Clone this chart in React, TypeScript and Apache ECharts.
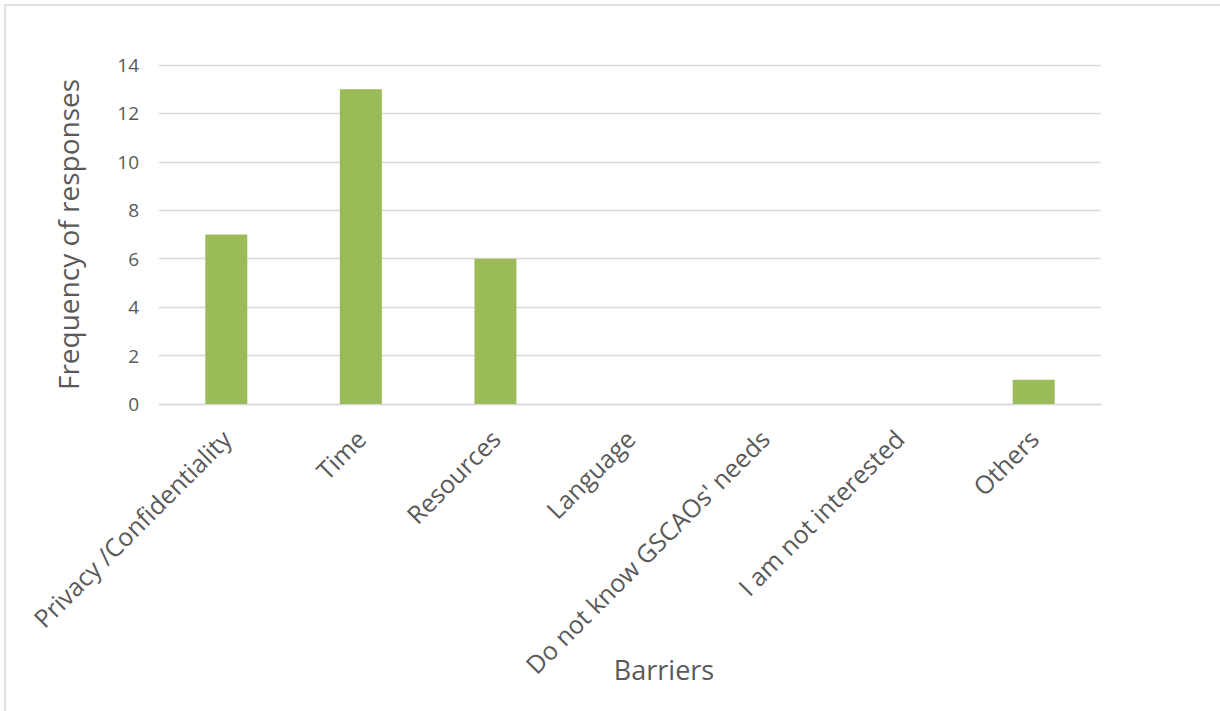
import React, { useEffect, useRef } from "react";
import * as echarts from "echarts";

const categories = [
  "Privacy /Confidentiality",
  "Time",
  "Resources",
  "Language",
  "Do not know GSCAOs' needs",
  "I am not interested",
  "Others",
];
const frequencies = [7, 13, 6, 0, 0, 0, 1];
const yTitle = "Frequency of responses";
const xTitle = "Barriers";

export default function App() {
  const ref = useRef<HTMLDivElement>(null);
  useEffect(() => {
    if (!ref.current) return;
    const chart = echarts.init(ref.current, undefined, { renderer: "svg" });
    const font = "'Open Sans', sans-serif";
    chart.setOption({
      animation: false,
      backgroundColor: "#ffffff",
      grid: { left: 159, right: 119, top: 65, bottom: 307, containLabel: false },
      xAxis: {
        type: "category",
        data: categories,
        axisTick: { show: false },
        axisLine: { show: true, lineStyle: { color: "#D9D9D9", width: 1.3 } },
        axisLabel: {
          rotate: 45,
          interval: 0,
          margin: 30,
          color: "#595959",
          fontSize: 25,
          fontFamily: font,
        },
      },
      yAxis: {
        type: "value",
        min: 0,
        max: 14,
        interval: 2,
        name: yTitle,
        nameLocation: "middle",
        nameGap: 77,
        nameRotate: 90,
        nameTextStyle: { color: "#595959", fontSize: 28, fontFamily: font },
        axisLine: { show: false },
        axisTick: { show: false },
        axisLabel: { color: "#595959", fontSize: 19, fontFamily: font, margin: 20 },
        splitLine: { lineStyle: { color: "#D9D9D9", width: 1.3 } },
      },
      series: [
        {
          type: "bar",
          data: frequencies,
          barWidth: 42,
          itemStyle: { color: "#9BBB59" },
        },
      ],
      graphic: [
        {
          type: "rect",
          shape: { x: 5, y: 5, width: 1300, height: 800 },
          style: { fill: "none", stroke: "#D9D9D9", lineWidth: 1.5 },
          silent: true,
        },
        {
          type: "text",
          x: 664,
          y: 669,
          style: {
            text: xTitle,
            fill: "#595959",
            fontSize: 27,
            fontFamily: font,
            align: "center",
            verticalAlign: "middle",
          },
        },
      ],
    });
    return () => chart.dispose();
  }, []);
  return (
    <div
      ref={ref}
      style={{ position: "absolute", left: 0, top: 0, width: 1220, height: 711 }}
    />
  );
}
